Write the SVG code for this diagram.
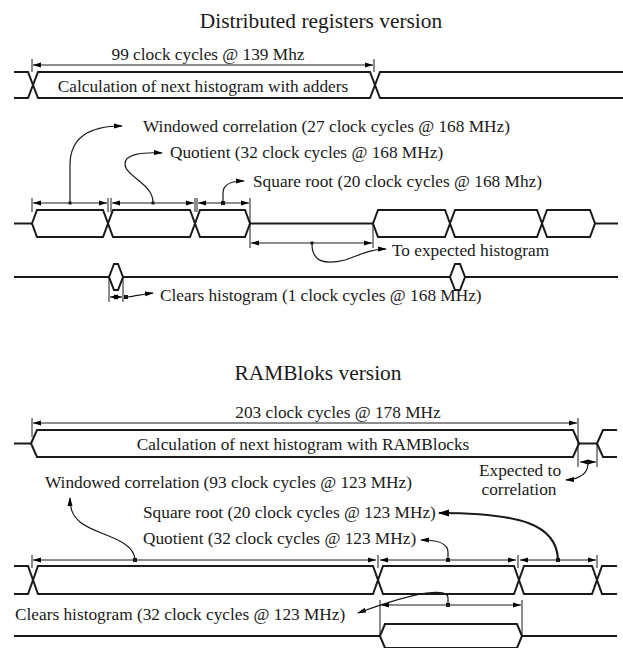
<svg xmlns="http://www.w3.org/2000/svg" width="623" height="648" viewBox="0 0 623 648">
<defs>
<marker id="da" markerUnits="userSpaceOnUse" markerWidth="8" markerHeight="6" refX="8" refY="3" orient="auto-start-reverse"><path d="M0,0.5 L8,3 L0,5.5 z" fill="#000"/></marker>
<marker id="ca" markerUnits="userSpaceOnUse" markerWidth="9" markerHeight="6" refX="8" refY="3" orient="auto"><path d="M0,0.5 L9,3 L0,5.5 z" fill="#000"/></marker>
<marker id="cb" markerUnits="userSpaceOnUse" markerWidth="11" markerHeight="8" refX="10" refY="4" orient="auto"><path d="M0,0.5 L11,4 L0,7.5 z" fill="#000"/></marker>
</defs>
<style>
text{font-family:"Liberation Serif","Times New Roman",serif;fill:#1a1a1a}
.t{font-size:21.4px}
.l{font-size:17.3px}
.bus{fill:#fff;stroke:#1a1a1a;stroke-width:2;stroke-linejoin:miter}
.w{fill:none;stroke:#1a1a1a;stroke-width:2}
.dim{fill:none;stroke:#1a1a1a;stroke-width:1;marker-start:url(#da);marker-end:url(#da)}
.tk{fill:none;stroke:#1a1a1a;stroke-width:1}
.cv{fill:none;stroke:#1a1a1a;stroke-width:1.2;marker-end:url(#ca)}
.cvb{fill:none;stroke:#1a1a1a;stroke-width:2.2;marker-end:url(#cb)}
.dot{fill:#1a1a1a}
</style>

<text class="t" x="321" y="28" text-anchor="middle">Distributed registers version</text>
<text class="t" x="318" y="380" text-anchor="middle">RAMBloks version</text>

<g id="bus-adders">
<path class="w" d="M14,72 H28 L38,98 H370 L380,72 H623"/>
<path class="w" d="M14,98 H28 L38,72 H370 L380,98 H623"/>
<text class="l" x="203" y="92" text-anchor="middle">Calculation of next histogram with adders</text>
</g>

<g id="bus-pipeline">
<path class="w" d="M14,223.5 H32"/>
<polygon class="bus" points="32,223.5 37,210 103,210 108,223.5 103,237 37,237"/>
<polygon class="bus" points="108,223.5 113,210 190,210 195,223.5 190,237 113,237"/>
<polygon class="bus" points="195,223.5 200,210 245,210 250,223.5 245,237 200,237"/>
<path class="w" d="M250,223.5 H373"/>
<polygon class="bus" points="373,223.5 378,210 445,210 450,223.5 445,237 378,237"/>
<polygon class="bus" points="450,223.5 455,210 537,210 542,223.5 537,237 455,237"/>
<polygon class="bus" points="542,223.5 547,210 590,210 595,223.5 590,237 547,237"/>
<path class="w" d="M595,223.5 H618"/>
</g>

<g id="bus-clears">
<path class="w" d="M14,277 H109 M123,277 H450 M465,277 H618"/>
<polygon class="bus" points="109,277 114,264 118,264 123,277 118,290 114,290"/>
<polygon class="bus" points="450,277 455,264 460,264 465,277 460,290 455,290"/>
</g>

<g id="bus-ram">
<path class="w" d="M14,443.5 H31"/>
<polygon class="bus" points="31,443.5 37,430 573,430 579,443.5 573,457 37,457"/>
<path class="w" d="M579,443.5 H597"/>
<path class="w" d="M617,430 H603 L597,443.5 L603,457 H617"/>
<text class="l" x="303" y="450" text-anchor="middle">Calculation of next histogram with RAMBlocks</text>
</g>

<g id="bus-ram-pipeline">
<path class="w" d="M14,566 H28 L33,580 L28,594 H14"/>
<polygon class="bus" points="33,580 38,566 373,566 378,580 373,594 38,594"/>
<polygon class="bus" points="378,580 383,566 514,566 519,580 514,594 383,594"/>
<polygon class="bus" points="519,580 524,566 592,566 597,580 592,594 524,594"/>
<path class="w" d="M617,566 H602 L597,580 L602,594 H617"/>
</g>

<g id="bus-ram-clears">
<path class="w" d="M14,636 H380 M522,636 H617"/>
<polygon class="bus" points="380,636 385,624 517,624 522,636 517,648 385,648"/>
</g>

<g id="connectors">
<path class="tk" d="M32,59 V72 M374,59 V72"/>
<path class="dim" d="M33,65 H373"/>
<text class="l" x="208" y="60" text-anchor="middle">99 clock cycles @ 139 Mhz</text>

<path class="tk" d="M32,198 V212 M108,198 V212 M111,198 V212 M195,198 V212 M197,198 V212 M250,198 V248 M373,223 V248"/>
<path class="dim" d="M33,203 H107"/>
<path class="dim" d="M112,203 H194"/>
<path class="dim" d="M198,203 H249"/>
<path class="dim" d="M251,243 H372"/>
<rect class="dot" x="68.5" y="201.5" width="3" height="3"/>
<rect class="dot" x="151.5" y="201.5" width="3" height="3"/>
<rect class="dot" x="221" y="201" width="4" height="4"/>
<rect class="dot" x="310.5" y="241.5" width="3" height="3"/>
<path class="cv" d="M70,202 V165 C70,138 88,126 122,126"/>
<path class="cv" d="M153,202 C153,184 125,176 125,164 C125,154 142,152 162,153"/>
<path class="cv" d="M223,202 V193 C223,185 231,181 244,181"/>
<path class="cv" d="M312,244 C312,262 325,265 345,260 C360,255 370,249 386,249"/>
<text class="l" x="143" y="132">Windowed correlation (27 clock cycles @ 168 MHz)</text>
<text class="l" x="170" y="158">Quotient (32 clock cycles @ 168 MHz)</text>
<text class="l" x="253" y="187">Square root (20 clock cycles @ 168 Mhz)</text>
<text class="l" x="392" y="256">To expected histogram</text>

<path class="tk" d="M109,277 V302 M123,277 V302"/>
<path class="dim" d="M110,297 H122"/>
<rect class="dot" x="124" y="295" width="4" height="4"/>
<path class="cv" d="M128,297 C136,296 144,294 153,293"/>
<text class="l" x="160" y="301">Clears histogram (1 clock cycles @ 168 MHz)</text>

<path class="tk" d="M32,418 V437 M578,418 V467 M597,443 V467"/>
<path class="dim" d="M33,423 H577"/>
<text class="l" x="338" y="418" text-anchor="middle">203 clock cycles @ 178 MHz</text>
<path class="dim" d="M580,462 H596"/>
<rect class="dot" x="586.5" y="460.5" width="3" height="3"/>
<path class="cv" d="M588,463 C588,474 580,479 566,480"/>
<text class="l" x="520" y="476" text-anchor="middle">Expected to</text>
<text class="l" x="519" y="495" text-anchor="middle">correlation</text>

<path class="tk" d="M32,555 V568 M378,555 V568 M518,555 V568 M597,555 V568"/>
<path class="dim" d="M33,560 H376"/>
<path class="dim" d="M380,560 H516"/>
<path class="dim" d="M520,560 H596"/>
<rect class="dot" x="133" y="558" width="4" height="4"/>
<rect class="dot" x="446" y="558" width="4" height="4"/>
<rect class="dot" x="556" y="558" width="4" height="4"/>
<path class="cv" d="M135,559 C133,538 95,535 80,522 C72,515 70,508 70,498"/>
<path class="cvb" d="M558,559 C556,525 522,513 439,513"/>
<path class="cv" d="M448,559 V552 C448,544 440,540 421,540"/>
<text class="l" x="45" y="488">Windowed correlation (93 clock cycles @ 123 MHz)</text>
<text class="l" x="143" y="518">Square root (20 clock cycles @ 123 MHz)</text>
<text class="l" x="143" y="544">Quotient (32 clock cycles @ 123 MHz)</text>

<path class="tk" d="M380,600 V636 M522,600 V636"/>
<path class="dim" d="M381,605 H521"/>
<rect class="dot" x="446" y="603" width="4" height="4"/>
<path class="cv" d="M448,604 V598 C448,588 420,590 358,613"/>
<text class="l" x="15" y="620">Clears histogram (32 clock cycles @ 123 MHz)</text>
</g>
</svg>
